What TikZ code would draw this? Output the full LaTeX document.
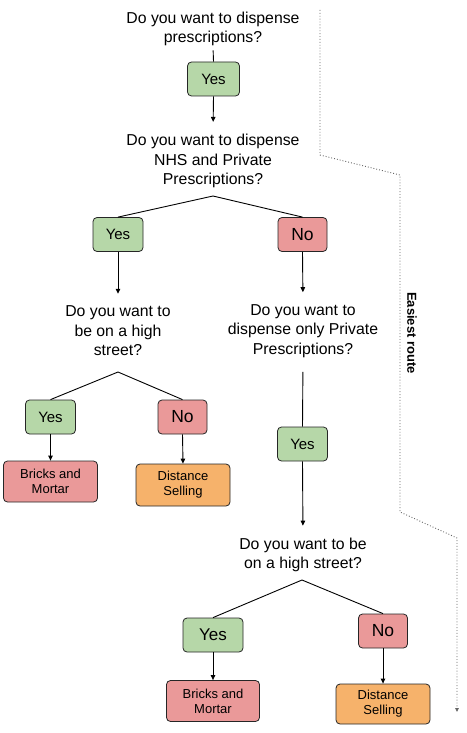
\documentclass[tikz,border=0pt]{standalone}
\usepackage{fontspec}
\setmainfont{Liberation Sans}
\usetikzlibrary{arrows.meta}
\definecolor{ink}{HTML}{000000}
\definecolor{yesfill}{HTML}{B6D7A8}
\definecolor{nofill}{HTML}{EA9999}
\definecolor{distfill}{HTML}{F6B26B}
\definecolor{routegray}{HTML}{666666}

\begin{document}
\begin{tikzpicture}[x=1pt, y=-1pt,
  ques/.style={align=center, inner sep=0pt, font=\fontsize{15.8}{19.5}\selectfont},
  box/.style={draw=ink!85, rounded corners=4pt, line width=0.8pt, inner sep=0pt,
              minimum height=34pt, minimum width=50pt, font=\fontsize{15}{18}\selectfont},
  yesbox/.style={box, fill=yesfill},
  nobox/.style={box, fill=nofill, font=\fontsize{17.5}{20}\selectfont},
  endbox/.style={box, fill=nofill, align=center, minimum width=93pt, minimum height=41pt,
                 font=\fontsize{13}{15}\selectfont},
  distbox/.style={endbox, fill=distfill},
  tie/.style={line width=0.9pt, draw=ink},
  arr/.style={tie, -{Triangle[length=5pt, width=4.5pt]}},
  route/.style={draw=routegray, dotted, line width=0.9pt},
  lbl/.style={font=\fontsize{13}{15}\selectfont\bfseries}
]
\useasboundingbox (0,0) rectangle (466,733);

% questions
\node[ques] (q1) at (213,29) {Do you want to dispense\\prescriptions?};
\node[ques] (q2) at (213,161) {Do you want to dispense\\NHS and Private\\Prescriptions?};
\node[ques] (q3l) at (118,331) {Do you want to\\be on a high\\street?};
\node[ques] (q3r) at (303,331) {Do you want to\\dispense only Private\\Prescriptions?};
\node[ques] (q4) at (303,555) {Do you want to be\\on a high street?};

% answers
\node[yesbox, minimum width=52pt] (yes1) at (213.5,79) {Yes};
\node[yesbox] (yes2) at (118,234.5) {Yes};
\node[nobox, minimum width=49pt] (no2) at (302.5,234.5) {No};
\node[yesbox] (yes3) at (50.5,417) {Yes};
\node[nobox, minimum width=49pt] (no3) at (182.5,417) {No};
\node[yesbox] (yes4) at (302.5,444) {Yes};
\node[yesbox, minimum width=60pt, font=\fontsize{17}{20}\selectfont] (yes5) at (213,635) {Yes};
\node[nobox, minimum width=49pt] (no5) at (383,631) {No};

% outcomes
\node[endbox, minimum width=94pt] (bm3) at (50.5,481.5) {Bricks and\\Mortar};
\node[distbox, minimum width=94pt, minimum height=42pt] (ds3) at (183,485) {Distance\\Selling};
\node[endbox] (bm5) at (213,701) {Bricks and\\Mortar};
\node[distbox, minimum width=94pt, minimum height=40pt] (ds5) at (383,704) {Distance\\Selling};

% splits
\coordinate (a2) at (213,196);
\coordinate (a3) at (118,372);
\coordinate (a4) at (302,580);

\draw[tie, shorten <=4pt] (q1.south) -- (yes1.north);
\draw[arr, shorten >=12pt] (yes1.south) -- (q2.north);
\draw[tie] (yes2.north) -- (a2) -- (no2.north);
\draw[arr, shorten >=12pt] (yes2.south) -- (q3l.north);
\draw[arr, shorten >=12pt] (no2.south) -- (q3r.north);
\draw[tie] (yes3.north) -- (a3) -- (no3.north);
\draw[arr] (yes3.south) -- (bm3.north);
\draw[arr] (no3.south) -- (ds3.north);
\draw[tie, shorten <=14pt] (q3r.south) -- (yes4.north);
\draw[arr, shorten >=12pt] (yes4.south) -- (q4.north);
\draw[tie] (yes5.north) -- (a4) -- (no5.north);
\draw[arr] (yes5.south) -- (bm5.north);
\draw[arr] (no5.south) -- (ds5.north);

% easiest route
\coordinate (r0) at (320,10);
\coordinate (r1) at (320,155);
\coordinate (r2) at (400,175);
\coordinate (r3) at (400,512);
\coordinate (r4) at (457,538);
\coordinate (r5) at (457,712);
\draw[route, -{Triangle[length=4pt, width=3.5pt]}] (r0) -- (r1) -- (r2) -- (r3) -- (r4) -- (r5);
\node[lbl, rotate=-90] (easy) at (412,333) {Easiest route};
\end{tikzpicture}
\end{document}
